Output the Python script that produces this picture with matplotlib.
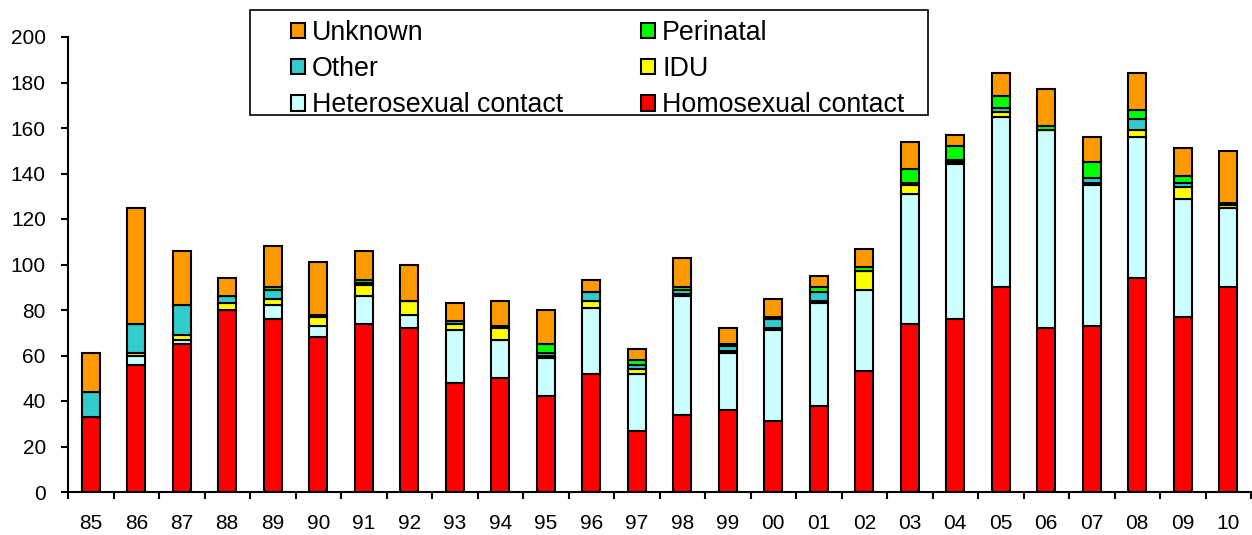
import matplotlib
matplotlib.use("Agg")
import matplotlib.pyplot as plt
from matplotlib.patches import Rectangle
import numpy as np

plt.rcParams["font.family"] = ["Liberation Sans", "DejaVu Sans"]

years = ["85", "86", "87", "88", "89", "90", "91", "92", "93", "94", "95", "96", "97",
         "98", "99", "00", "01", "02", "03", "04", "05", "06", "07", "08", "09", "10"]

# stacked from bottom to top
homosexual = [33, 56, 65, 80, 76, 68, 74, 72, 48, 50, 42, 52, 27,
              34, 36, 31, 38, 53, 74, 76, 90, 72, 73, 94, 77, 90]
heterosexual = [0, 4, 2, 0, 6, 5, 12, 6, 23, 17, 17, 29, 25,
                52, 25, 40, 45, 36, 57, 68, 75, 87, 62, 62, 52, 35]
idu = [0, 1, 2, 3, 3, 4, 5, 6, 3, 5, 1, 3, 2,
       1, 1, 1, 1, 8, 4, 1, 2, 0, 1, 3, 5, 1]
other = [11, 13, 13, 3, 4, 1, 1, 0, 1, 1, 1, 4, 2,
         2, 2, 4, 4, 0, 1, 1, 2, 0, 2, 5, 2, 0]
perinatal = [0, 0, 0, 0, 1, 0, 1, 0, 0, 0, 4, 0, 2,
             1, 1, 1, 2, 2, 6, 6, 5, 2, 7, 4, 3, 1]
unknown = [17, 51, 24, 8, 18, 23, 13, 16, 8, 11, 15, 5, 5,
           13, 7, 8, 5, 8, 12, 5, 10, 16, 11, 16, 12, 23]

series = [
    ("Homosexual contact", homosexual, "#FF0000"),
    ("Heterosexual contact", heterosexual, "#CCFFFF"),
    ("IDU", idu, "#FFFF00"),
    ("Other", other, "#33CCCC"),
    ("Perinatal", perinatal, "#00FF00"),
    ("Unknown", unknown, "#FF9900"),
]

W, H = 1252, 535
fig = plt.figure(figsize=(W / 100, H / 100), dpi=100)
ax = fig.add_axes([68 / W, 43 / H, 1183 / W, 455 / H])

x = np.arange(len(years))
bottom = np.zeros(len(years))
bars = {}
for name, vals, color in series:
    vals = np.array(vals, dtype=float)
    bars[name] = ax.bar(x, vals, width=0.4, bottom=bottom, color=color,
                        edgecolor="black", linewidth=1.5)
    bottom += vals

ax.set_xlim(-0.5, len(years) - 0.5)
ax.set_ylim(0, 200)
ax.set_yticks(range(0, 201, 20))
ax.spines["top"].set_visible(False)
ax.spines["right"].set_visible(False)
ax.spines["left"].set_linewidth(1.5)
ax.spines["bottom"].set_linewidth(1.5)

ax.set_xticks(x)
ax.set_xticklabels(years)
ax.set_xticks(np.arange(-0.5, len(years), 1.0), minor=True)
ax.tick_params(axis="x", which="major", length=0, pad=16, labelsize=15)
ax.tick_params(axis="x", which="minor", length=5, width=1.5, direction="out")
ax.tick_params(axis="y", length=5, width=1.5, direction="out", pad=11, labelsize=15)

# legend box drawn separately to get the wide side margins
fig.patches.append(Rectangle((250 / W, 1 - 115 / H), 678 / W, 105 / H,
                             transform=fig.transFigure, facecolor="white",
                             edgecolor="black", linewidth=1.2, zorder=5))

order = ["Unknown", "Other", "Heterosexual contact", "Perinatal", "IDU", "Homosexual contact"]
leg = fig.legend([bars[n][0] for n in order], order, ncol=2,
                 loc="upper left", bbox_to_anchor=(291 / W, 1 - 20 / H),
                 fontsize=19.3, frameon=False, borderpad=0,
                 handlelength=0.52, handleheight=0.52, handletextpad=0.27,
                 labelspacing=0.38, columnspacing=2.9, borderaxespad=0)
leg.set_zorder(6)

fig.savefig("out.png", dpi=100)
